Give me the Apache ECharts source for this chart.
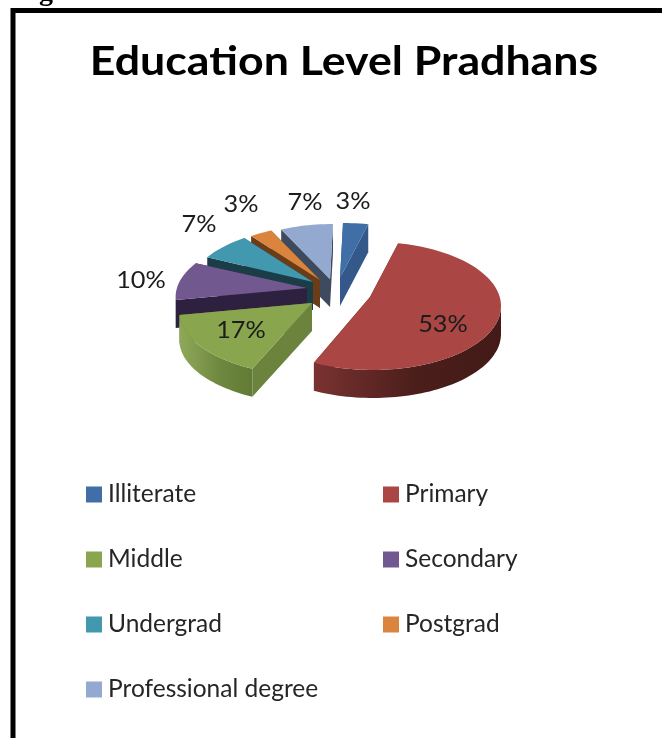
<!DOCTYPE html>
<html>
<head>
<meta charset="utf-8">
<style>html,body{margin:0;padding:0;background:#fff}#chart{width:662px;height:738px}</style>
<script src="https://cdn.jsdelivr.net/npm/echarts@6/dist/echarts.min.js"></script>
</head>
<body>
<div id="chart"></div>
<script>
// Education level shares, clockwise from twelve o'clock
const categories = ['Illiterate', 'Primary', 'Middle', 'Secondary', 'Undergrad', 'Postgrad', 'Professional degree'];
const shares = [3, 53, 17, 10, 7, 3, 7];
const chartTitle = 'Education Level Pradhans';
const figureCaption = 'Figure 6.5: Education Level of Pradhans';

// Slice appearance: top face, side walls, rim gradient stops
const topColors = ['#3f6fa6', '#aa4643', '#89a54e', '#71588f', '#4198af', '#db843d', '#93a9cf'];
const wallColors = ['#34588a', '#6e2c2a', '#6b833c', '#2e2140', '#1a3d48', '#6a3d18', '#3e4a5e'];
const rimLeft = ['#34588a', '#7a3230', '#8fa95a', '#4e3c64', '#2b6b7d', '#8a5020', '#5a6a85'];
const rimMid = ['#2f5180', '#4a1e1b', '#6f883f', '#3a2c50', '#1f5060', '#7a4520', '#4a5870'];
const rimRight = ['#2a4a75', '#431a17', '#617a35', '#2e2140', '#1a3d48', '#6a3d18', '#3e4a5e'];

// Pie layout: base point, rim ellipse radii, ellipse centre relative to a slice tip, extrusion depth
const BASE = [342, 280];
const RX = 128, RY = 64, RIM_DX = 3, RIM_DY = 9, DEPTH = 28;
// How far each slice's tip is pulled from the base point
const explode = [[-2, -2], [28, 17], [-30, 23], [-35, 8], [-29, 2], [-22, 0], [-12, -1]];
// Horizontal widening of the slices on the near left
const widen = [1, 1, 1.06, 1.05, 1, 1, 1];
// Percent label centres relative to the base point
const labelOffset = [[11, -78], [101, 45], [-101, 51], [-201, 1], [-143, -55], [-101, -75], [-37, -77]];
// Painter's order, far slices first
const paintOrder = [6, 0, 5, 4, 3, 2, 1];

const FONT = 'Lato, Carlito, sans-serif';
const total = shares.reduce((a, b) => a + b, 0);

// The pie angle is skewed a little for the tilted view
function skew(deg) { return deg + 6 * Math.sin(deg * Math.PI / 360); }
function rimPoint(tip, deg, i) {
  const t = skew(deg) * Math.PI / 180;
  return [
    tip[0] + RIM_DX + RX * widen[i] * Math.sin(t),
    tip[1] + RIM_DY - RY * Math.cos(t)
  ];
}
function down(p) { return [p[0], p[1] + DEPTH]; }

function renderSlice(i) {
  const before = shares.slice(0, i).reduce((a, b) => a + b, 0);
  const a0 = before / total * 360, a1 = (before + shares[i]) / total * 360;
  const tip = [BASE[0] + explode[i][0], BASE[1] + explode[i][1]];
  const arc = [], nearArc = [];
  const steps = Math.max(6, Math.ceil((a1 - a0) / 2));
  for (let k = 0; k <= steps; k++) {
    const deg = a0 + (a1 - a0) * k / steps;
    const p = rimPoint(tip, deg, i);
    arc.push(p);
    // Only the part of the rim facing the viewer gets an outer wall
    if (skew(deg) >= 90 && skew(deg) <= 270) nearArc.push(p);
  }
  const first = arc[0], last = arc[arc.length - 1];
  const rimFill = new echarts.graphic.LinearGradient(0, 0, 1, 0, [
    { offset: 0, color: rimLeft[i] },
    { offset: 0.55, color: rimMid[i] },
    { offset: 1, color: rimRight[i] }
  ]);
  const wall = pts => ({
    type: 'polygon', shape: { points: pts }, style: { fill: wallColors[i] }
  });
  const children = [
    wall([tip, first, down(first), down(tip)]),
    wall([tip, last, down(last), down(tip)])
  ];
  if (nearArc.length > 1) {
    children.push({
      type: 'polygon',
      shape: { points: nearArc.concat(nearArc.map(down).reverse()) },
      style: { fill: rimFill }
    });
  }
  children.push(
    {
      type: 'polygon',
      shape: { points: [tip].concat(arc) },
      style: { fill: topColors[i] }
    },
    {
      type: 'text',
      x: BASE[0] + labelOffset[i][0],
      y: BASE[1] + labelOffset[i][1],
      scaleX: 1.1,
      style: {
        text: shares[i] + '%', fill: '#1c1c1c', font: '23px ' + FONT,
        align: 'center', verticalAlign: 'middle'
      }
    }
  );
  return { type: 'group', children };
}

const series = categories.map((name, i) => ({
  type: 'custom',
  name,
  coordinateSystem: 'none',
  z: 2 + paintOrder.indexOf(i),
  silent: true,
  itemStyle: { color: topColors[i] },
  data: [[shares[i]]],
  renderItem: () => renderSlice(i)
}));

const legendBase = {
  orient: 'vertical', icon: 'rect', itemWidth: 16, itemHeight: 16, itemGap: 40,
  textStyle: { fontFamily: FONT, fontSize: 24.5, color: '#262626', padding: [0, 0, 0, 1] },
  selectedMode: false, padding: 0
};

const chart = echarts.init(document.getElementById('chart'), null, { renderer: 'canvas' });
chart.setOption({
  animation: false,
  backgroundColor: '#ffffff',
  legend: [
    Object.assign({}, legendBase, { left: 86, top: 482, data: categories.filter((_, i) => i % 2 === 0) }),
    Object.assign({}, legendBase, { left: 383, top: 482, data: categories.filter((_, i) => i % 2 === 1) })
  ],
  graphic: [
    {
      type: 'text', x: 14, y: 7,
      style: { text: figureCaption, font: 'bold 28px "Liberation Serif"', fill: '#000', verticalAlign: 'bottom' }
    },
    {
      type: 'rect', z: 10,
      shape: { x: 13, y: 10.5, width: 700, height: 800 },
      style: { fill: 'none', stroke: '#000', lineWidth: 5 }
    },
    {
      type: 'text', x: 344, y: 62, scaleX: 1.117,
      style: {
        text: chartTitle, font: 'bold 40px ' + FONT, fill: '#000',
        align: 'center', verticalAlign: 'middle'
      }
    }
  ],
  series
});
</script>
</body>
</html>
